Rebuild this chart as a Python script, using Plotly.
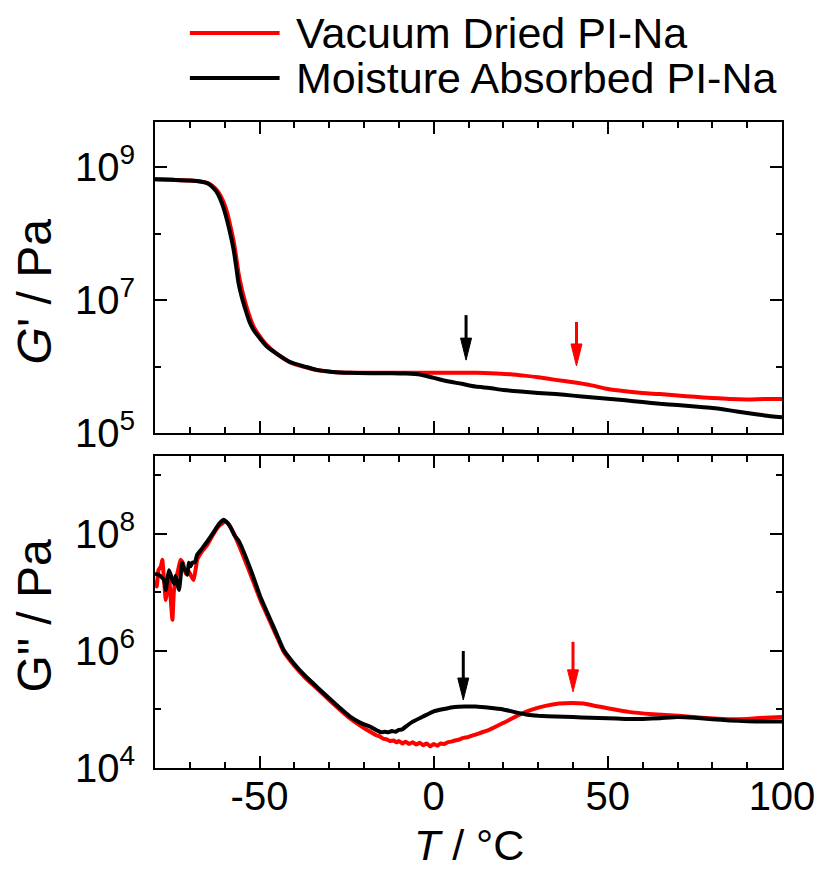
import plotly.graph_objects as go

# ---------------- data ----------------
# Storage modulus G' (top panel)
T_gp_md = [-80, -75, -70, -67, -65, -63.5, -62, -60.5, -59.3, -58.3, -57.4, -56.7, -56, -55, -54, -53,
           -51.7, -50, -47.9, -45, -41.2, -37, -33.6, -29, -24, -18, -12, -8, -4, 0, 4, 8, 12, 16, 20,
           25, 30, 35, 40, 45, 50, 55, 60, 65, 70, 75, 80, 85, 90, 95, 100]
Gp_md = [6.6e8, 6.45e8, 6.3e8, 6.1e8, 5.75e8, 5.0e8, 4.0e8, 2.6e8, 1.58e8, 9.5e7, 5.6e7, 3.2e7,
         1.78e7, 1.07e7, 7.1e6, 4.9e6, 3.55e6, 2.7e6, 2.0e6, 1.55e6, 1.17e6, 1.0e6, 8.9e5, 8.3e5,
         8.05e5, 7.95e5, 7.95e5, 7.85e5, 7.6e5, 6.75e5, 6.0e5, 5.5e5, 5.0e5, 4.75e5, 4.45e5, 4.2e5,
         4.0e5, 3.85e5, 3.65e5, 3.45e5, 3.27e5, 3.1e5, 2.92e5, 2.75e5, 2.63e5, 2.5e5, 2.37e5,
         2.19e5, 2.0e5, 1.84e5, 1.72e5]

T_gp_vd = [-80, -75, -70, -67, -65, -63.5, -62, -60.5, -59.3, -58.3, -57.4, -56.7, -56, -55, -54, -53,
           -51.7, -50, -47.9, -45, -41.2, -37, -33.6, -29, -24, -18, -12, -6, 0, 6, 12, 18, 22, 26,
           30, 35, 40, 45, 50, 55, 60, 65, 70, 75, 80, 85, 90, 95, 100]
Gp_vd = [6.6e8, 6.45e8, 6.3e8, 6.1e8, 5.8e8, 5.25e8, 4.35e8, 3.15e8, 2.1e8, 1.26e8, 7.6e7, 4.5e7,
         2.5e7, 1.41e7, 8.9e6, 6.0e6, 4.0e6, 2.9e6, 2.1e6, 1.55e6, 1.15e6, 9.8e5, 8.9e5, 8.3e5,
         8.05e5, 8.05e5, 8.05e5, 8.05e5, 8.05e5, 8.05e5, 8.05e5, 7.85e5, 7.65e5, 7.3e5, 6.9e5,
         6.3e5, 5.8e5, 5.25e5, 4.6e5, 4.25e5, 4.0e5, 3.85e5, 3.67e5, 3.5e5, 3.35e5, 3.24e5,
         3.2e5, 3.24e5, 3.24e5]

# Loss modulus G'' (bottom panel)
T_gpp_md = [-80, -79, -78.3, -77.4, -76.9, -76.5, -76, -75.5, -75, -74.5, -74.1, -73.6, -73.1, -72.6,
            -72.2, -71.7, -71.2, -70.7, -70.3, -69.8, -69.3, -68.5, -67.9, -66.5, -65, -63.5, -62.2,
            -61.2, -60.3, -59.4, -58.4, -57, -56, -54.6, -52, -49.8, -47, -45, -43.1, -40, -37, -33.6,
            -30, -27, -24.1, -21, -18, -16, -15, -14, -13, -12, -11, -10, -9, -8, -6, -3, 0, 3, 6, 9,
            12, 16, 20, 23, 27, 30, 35, 40, 45, 50, 55, 60, 65, 70, 75, 80, 85, 90, 95, 100]
Gpp_md = [2.1e7, 2.0e7, 1.86e7, 1.62e7, 1.1e7, 1.6e7, 2.4e7, 2.0e7, 1.62e7, 1.4e7, 1.9e7, 1.4e7,
          1.1e7, 2.0e7, 3.2e7, 2.5e7, 2.4e7, 2.0e7, 3.2e7, 2.8e7, 3.2e7, 3.3e7, 4.4e7, 5.6e7,
          7.4e7, 1.0e8, 1.32e8, 1.58e8, 1.74e8, 1.58e8, 1.32e8, 9.1e7, 7.6e7, 5.0e7, 2.0e7, 8.5e6,
          3.55e6, 1.9e6, 1.05e6, 6.0e5, 3.8e5, 2.45e5, 1.55e5, 1.07e5, 7.6e4, 5.9e4, 5.0e4, 4.3e4,
          4.07e4, 4.17e4, 4.07e4, 4.27e4, 4.17e4, 4.47e4, 4.57e4, 5.1e4, 6.2e4, 7.6e4, 9.3e4,
          1.02e5, 1.1e5, 1.12e5, 1.12e5, 1.07e5, 1.0e5, 9.1e4, 8.1e4, 7.8e4, 7.6e4, 7.4e4, 7.2e4,
          7.1e4, 6.9e4, 6.9e4, 7.1e4, 7.4e4, 7.2e4, 6.8e4, 6.5e4, 6.3e4, 6.2e4, 6.2e4]

T_gpp_vd = [-80, -79.5, -79, -78.3, -77.9, -77.4, -76.9, -76.4, -76, -75.5, -75, -74.6, -74.1, -73.5,
            -72.7, -72, -71.2, -70.5, -69.8, -68.9, -68.2, -67.9, -66.5, -65, -63.1, -61.5, -59.8,
            -58.8, -57.4, -56, -54.6, -52, -49.8, -47, -45, -43.1, -40, -37, -33.6, -30, -27, -24.1,
            -21, -18, -16.5, -15.5, -14.5, -13.5, -12.5, -11.5, -10.7, -10, -9, -8, -7, -6, -5, -4,
            -3, -2, -1, 0, 1, 2, 3, 4, 5, 6, 7, 8.3, 10, 12, 15.9, 20, 24.5, 28, 32.1, 36, 39.7, 43,
            46.4, 50, 55.9, 63, 70.2, 77, 84.5, 90, 95, 100]
Gpp_vd = [1.62e7, 1.26e7, 2.4e7, 2.8e7, 3.6e7, 1.6e7, 7.4e6, 1.26e7, 2.1e7, 7.9e6, 3.4e6, 1.0e7,
          1.62e7, 2.2e7, 3.6e7, 3.2e7, 2.1e7, 2.4e7, 2.0e7, 1.62e7, 2.8e7, 3.6e7, 5.0e7, 6.5e7,
          1.02e8, 1.38e8, 1.62e8, 1.45e8, 1.02e8, 6.6e7, 4.1e7, 1.66e7, 7.6e6, 3.2e6, 1.74e6,
          9.8e5, 5.6e5, 3.55e5, 2.3e5, 1.45e5, 1.0e5, 7.1e4, 5.25e4, 4.07e4, 3.63e4, 3.47e4,
          3.16e4, 3.09e4, 2.88e4, 2.95e4, 2.75e4, 2.88e4, 2.63e4, 2.82e4, 2.57e4, 2.75e4, 2.51e4,
          2.69e4, 2.45e4, 2.63e4, 2.34e4, 2.57e4, 2.4e4, 2.63e4, 2.57e4, 2.75e4, 2.82e4, 2.95e4,
          3.02e4, 3.24e4, 3.39e4, 3.72e4, 4.47e4, 5.9e4, 8.1e4, 9.8e4, 1.15e5, 1.26e5, 1.29e5,
          1.26e5, 1.15e5, 1.05e5, 9.1e4, 8.3e4, 7.8e4, 7.2e4, 6.8e4, 6.9e4, 7.2e4, 7.4e4]

# tick labels
x_tickvals = [-50, 0, 50, 100]
x_ticktext = ["-50", "0", "50", "100"]
gp_tickvals = [1e5, 1e7, 1e9]
gp_ticktext = ["10<sup>5</sup>", "10<sup>7</sup>", "10<sup>9</sup>"]
gp_minorvals = [1e6, 1e8]
gpp_tickvals = [1e4, 1e6, 1e8]
gpp_ticktext = ["10<sup>4</sup>", "10<sup>6</sup>", "10<sup>8</sup>"]
gpp_minorvals = [1e5, 1e7, 1e9]

series_names = ["Vacuum Dried PI-Na", "Moisture Absorbed PI-Na"]
series_colors = ["#ff0000", "#000000"]

# arrows marking transitions: (axis, T, tip value, length in px, colour)
arrow_axis = ["top", "top", "bottom", "bottom"]
arrow_T = [9.3, 41.0, 8.5, 40.0]
arrow_tip = [1.25e6, 1.02e6, 1.45e5, 2.0e5]
arrow_len = [45, 44, 49, 50]
arrow_color = ["#000000", "#ff0000", "#000000", "#ff0000"]

# ---------------- layout geometry ----------------
W, H = 827, 869
L, R, TOP, B = 155, 43, 122, 101
PW, PH = W - L - R, H - TOP - B


def px2x(px):
    return (px - L) / PW


def py2y(py):
    return (H - B - py) / PH


FONT = "Liberation Sans, Arial, sans-serif"

fig = go.Figure()

for T, G, name, col in [(T_gp_vd, Gp_vd, series_names[0], series_colors[0]),
                        (T_gp_md, Gp_md, series_names[1], series_colors[1])]:
    fig.add_trace(go.Scatter(x=T, y=G, mode="lines", name=name, xaxis="x", yaxis="y",
                             line=dict(color=col, width=4, shape="spline", smoothing=0.6),
                             showlegend=False))
for T, G, name, col in [(T_gpp_vd, Gpp_vd, series_names[0], series_colors[0]),
                        (T_gpp_md, Gpp_md, series_names[1], series_colors[1])]:
    fig.add_trace(go.Scatter(x=T, y=G, mode="lines", name=name, xaxis="x2", yaxis="y2",
                             line=dict(color=col, width=4, shape="spline", smoothing=0.4),
                             showlegend=False))

common = dict(showline=True, linecolor="black", linewidth=2, mirror="ticks", ticks="inside",
              ticklen=12, tickwidth=2, tickcolor="black", showgrid=False, zeroline=False,
              tickfont=dict(family=FONT, size=40, color="black"))

xminor = dict(ticks="inside", ticklen=6, tickwidth=2, tickcolor="black", dtick=10, tick0=0,
              showgrid=False)

fig.update_layout(
    width=W, height=H, margin=dict(l=L, r=R, t=TOP, b=B),
    paper_bgcolor="white", plot_bgcolor="white", showlegend=False,
    xaxis=dict(domain=[0, 1], anchor="y", range=[-80, 100], tickmode="array",
               tickvals=x_tickvals, ticktext=x_ticktext, showticklabels=False, minor=xminor,
               **common),
    xaxis2=dict(domain=[0, 1], anchor="y2", range=[-80, 100], tickmode="array",
                tickvals=x_tickvals, ticktext=x_ticktext, minor=xminor, ticklabelstandoff=-8,
                **common),
    yaxis=dict(domain=[py2y(433), 1], anchor="x", type="log", range=[5, 9.68],
               tickmode="array", tickvals=gp_tickvals, ticktext=gp_ticktext,
               ticklabelstandoff=10,
               minor=dict(ticks="inside", ticklen=6, tickwidth=2, tickcolor="black",
                          tickmode="array", tickvals=gp_minorvals, showgrid=False),
               **common),
    yaxis2=dict(domain=[0, py2y(456)], anchor="x2", type="log", range=[4, 9.33],
                tickmode="array", tickvals=gpp_tickvals, ticktext=gpp_ticktext,
                ticklabelstandoff=10,
                minor=dict(ticks="inside", ticklen=6, tickwidth=2, tickcolor="black",
                           tickmode="array", tickvals=gpp_minorvals, showgrid=False),
                **common),
)

annotations = []
shapes = []

# axis titles
annotations.append(dict(text="<i>G</i>' / Pa", x=px2x(34), y=py2y(291), xref="paper", yref="paper",
                        showarrow=False, textangle=-90, xanchor="center", yanchor="middle",
                        font=dict(family=FONT, size=48, color="black")))
annotations.append(dict(text='G" / Pa', x=px2x(34), y=py2y(616), xref="paper", yref="paper",
                        showarrow=False, textangle=-90, xanchor="center", yanchor="middle",
                        font=dict(family=FONT, size=48, color="black")))
annotations.append(dict(text="<i>T</i> / \u00b0C", x=0.5, y=py2y(845), xref="paper", yref="paper",
                        showarrow=False, xanchor="center", yanchor="middle", borderpad=0,
                        font=dict(family=FONT, size=43, color="black")))

# manual legend
for i, (name, col) in enumerate(zip(series_names, series_colors)):
    yy = py2y(33 + 45 * i)
    shapes.append(dict(type="line", xref="paper", yref="paper", x0=px2x(190), x1=px2x(280),
                       y0=yy, y1=yy, line=dict(color=col, width=4)))
    annotations.append(dict(text=name, x=px2x(294), y=yy, xref="paper", yref="paper",
                            showarrow=False, xanchor="left", yanchor="middle",
                            font=dict(family=FONT, size=43, color="black")))

# arrows (pixel sized, anchored at data points)
for ax, t, tip, ln, col in zip(arrow_axis, arrow_T, arrow_tip, arrow_len, arrow_color):
    xr, yr = ("x", "y") if ax == "top" else ("x2", "y2")
    head = 22
    shapes.append(dict(type="line", xref=xr, yref=yr, xsizemode="pixel", ysizemode="pixel",
                       xanchor=t, yanchor=tip, x0=0, x1=0, y0=head - 1, y1=ln,
                       line=dict(color=col, width=3)))
    shapes.append(dict(type="path", xref=xr, yref=yr, xsizemode="pixel", ysizemode="pixel",
                       xanchor=t, yanchor=tip, path=f"M -5.5,{head} L 5.5,{head} L 0,0 Z",
                       fillcolor=col, line=dict(color=col, width=1)))

fig.update_layout(annotations=annotations, shapes=shapes)

fig.write_html("out.html")
